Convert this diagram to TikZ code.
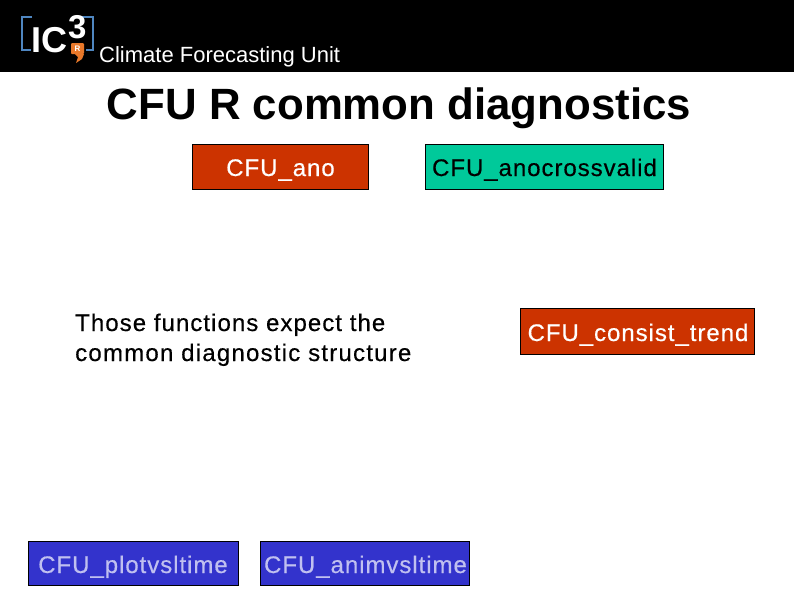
\documentclass[tikz,border=0pt]{standalone}
\usepackage{fontspec}
\setmainfont{Liberation Sans}
\definecolor{cfured}{HTML}{CC3300}
\definecolor{cfugreen}{HTML}{00C99A}
\definecolor{cfublue}{HTML}{3333CC}
\definecolor{cfulav}{HTML}{C0C0F0}
\definecolor{logoblue}{HTML}{4F86C0}
\definecolor{logoorange}{HTML}{E8782A}
\newfontfamily\lblfont[LetterSpace=4,FakeBold=0.4]{Liberation Sans}
\newfontfamily\lblfontb[LetterSpace=4.4,FakeBold=0.4]{Liberation Sans}
\newfontfamily\lblfontc[LetterSpace=5.1,FakeBold=0.4]{Liberation Sans}
\tikzset{
  box/.style={draw=black,line width=0.8pt,inner sep=0pt,anchor=north west},
  lbl/.style={font=\lblfont\fontsize{24}{28}\selectfont,inner sep=0pt},
}
\begin{document}
\begin{tikzpicture}[x=1pt,y=-1pt]
\useasboundingbox (0,0) rectangle (794,595);
\fill[white] (0,0) rectangle (794,595);
\fill[black] (0,0) rectangle (794,72);
% logo
\draw[logoblue,line width=2pt] (32,17) -- (22,17) -- (22,50) -- (31,50);
\draw[logoblue,line width=2pt] (72,17) -- (93,17) -- (93,50) -- (86,50);
\node[text=white,font=\bfseries\fontsize{36}{36}\selectfont,inner sep=0pt,anchor=base west] (ic) at (31,52) {IC};
\node[text=white,font=\bfseries\fontsize{33}{33}\selectfont,inner sep=0pt,anchor=base west] (three) at (68,38) {3};
\fill[logoorange,rounded corners=1pt] (71,43) rectangle (84,54);
\fill[logoorange] (75,54) -- (84,54) -- (82,59) -- (76,63) -- (78,57) -- cycle;
\node[text=white,font=\bfseries\fontsize{8}{8}\selectfont,inner sep=0pt] (r) at (77.5,48.5) {R};
\node[text=white,anchor=base west,inner sep=0pt,font=\fontsize{22}{26}\selectfont] (unit) at (99,62) {Climate Forecasting Unit};
\node[anchor=base,inner sep=0pt,font=\bfseries\fontsize{43.8}{50}\selectfont] (title) at (399,119) {CFU R common diagnostics};
% boxes
\node[box,fill=cfured,minimum width=176pt,minimum height=45pt] (ano) at (192,144) {};
\node[lbl,text=white,anchor=base] (anot) at (280.5,176) {CFU\_ano};
\node[box,fill=cfugreen,minimum width=238pt,minimum height=45pt] (cross) at (425,144) {};
\node[lbl,text=black,anchor=base] (crosst) at (544.5,176) {CFU\_anocrossvalid};
\node[box,fill=cfured,minimum width=234pt,minimum height=46pt] (trend) at (520,308) {};
\node[lbl,text=white,anchor=base] (trendt) at (638,341) {CFU\_consist\_trend};
\node[box,fill=cfublue,minimum width=210pt,minimum height=44pt] (plot) at (28,541) {};
\node[lbl,text=cfulav,anchor=base] (plott) at (133,573) {CFU\_plotvsltime};
\node[box,fill=cfublue,minimum width=209pt,minimum height=44pt] (anim) at (260,541) {};
\node[lbl,text=cfulav,anchor=base] (animt) at (365.5,573) {CFU\_animvsltime};
\node[lbl,font=\lblfontb\fontsize{24}{28}\selectfont,anchor=base west] (l1) at (75,331) {Those functions expect the};
\node[lbl,font=\lblfontc\fontsize{24}{28}\selectfont,anchor=base west] (l2) at (75,361) {common diagnostic structure};
\end{tikzpicture}
\end{document}
